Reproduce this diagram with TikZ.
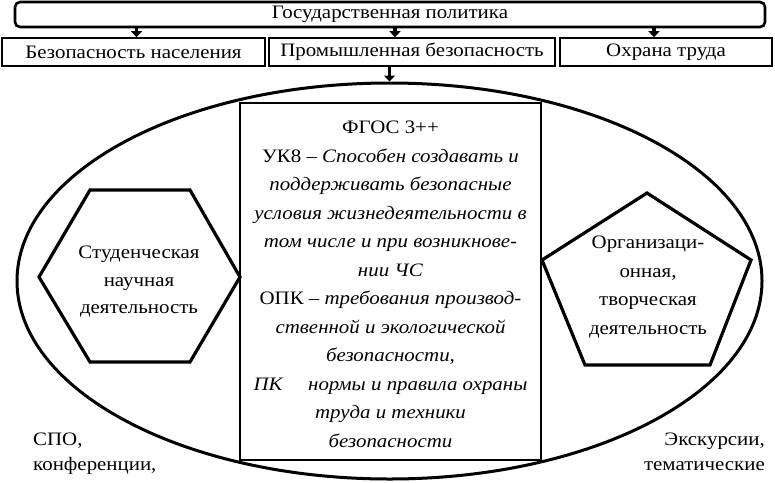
\documentclass[tikz,border=0pt]{standalone}
\usepackage{fontspec}
\setmainfont{Liberation Serif}[FakeStretch=1.1]
\usetikzlibrary{arrows.meta,positioning,calc,shapes.geometric}
\tikzset{
  govbox/.style={draw,rounded corners=5pt,line width=2.6pt,minimum width=750pt,
              minimum height=25pt,inner sep=0pt},
  areabox/.style={draw,line width=1.6pt,minimum height=28pt,inner sep=0pt},
  fgosbox/.style={draw,fill=white,line width=1.8pt,minimum width=301pt,
              minimum height=357pt,inner sep=0pt},
  ovalline/.style={ellipse,draw,line width=3pt,inner sep=0pt},
  polyline/.style={line width=3.2pt,line join=miter},
  txt/.style={align=center,inner sep=0pt},
  downarrow/.style={-{Triangle[length=6pt,width=11pt]},line width=3.4pt},
}

\begin{document}
\begin{tikzpicture}[x=1pt,y=-1pt,every node/.style={font=\fontsize{19}{28.5}\selectfont}]
  \useasboundingbox (0,0) rectangle (775,482);
  \node[ovalline,minimum width=745pt,minimum height=396pt](oval) at (389.5,281){};
  \node[govbox](gov) at (390,14.5){Государственная политика};
  \node[areabox,minimum width=263pt](pop) at (133.5,52){Безопасность населения};
  \node[areabox,minimum width=286pt](ind) at (412,52){Промышленная безопасность};
  \node[areabox,minimum width=212pt](lab) at (666,52){Охрана труда};
  \coordinate (popin) at ([xshift=3pt]pop.north);
  \coordinate (indin) at ([xshift=-17pt]ind.north);
  \coordinate (labin) at ([xshift=-12pt]lab.north);
  \draw[downarrow](gov.south -| popin)--(popin);
  \draw[downarrow](gov.south -| indin)--(indin);
  \draw[downarrow](gov.south -| labin)--(labin);
  \draw[downarrow](ind.south -| oval.north)--(oval.north);
  \node[fgosbox](fgos) at (390.5,281.5){};
  \node[txt](fgostxt) at ([yshift=-3pt]fgos.center){%
    ФГОС 3++\\
    УК8 – \textit{Способен создавать и}\\
    \textit{поддерживать безопасные}\\
    \textit{условия жизнедеятельности в}\\
    \textit{том числе и при возникнове-}\\
    \textit{нии ЧС}\\
    ОПК – \textit{требования производ-}\\
    \textit{ственной и экологической}\\
    \textit{безопасности,}\\
    \textit{ПК}\hspace{1.3em}\textit{нормы и правила охраны}\\
    \textit{труда и техники}\\
    \textit{безопасности}};
  \draw[polyline](39,277)--(90,190)--(190,190)--(240,277)--(190,362)--(90,362)--cycle;
  \node[txt,font=\fontsize{19}{27.5}\selectfont](stud) at (139,282){Студенческая\\научная\\деятельность};
  \draw[polyline](647,193)--(751,260)--(710,365)--(585,365)--(542,260)--cycle;
  \node[txt](org) at (648,287){Организаци-\\онная,\\творческая\\деятельность};
  \node[txt,align=left,anchor=north west,font=\fontsize{19}{25}\selectfont](spo)
    at (33,433){СПО,\\конференции,};
  \node[txt,align=right,anchor=north east,font=\fontsize{19}{25}\selectfont](exc)
    at (765,433){Экскурсии,\\тематические};
\end{tikzpicture}
\end{document}
